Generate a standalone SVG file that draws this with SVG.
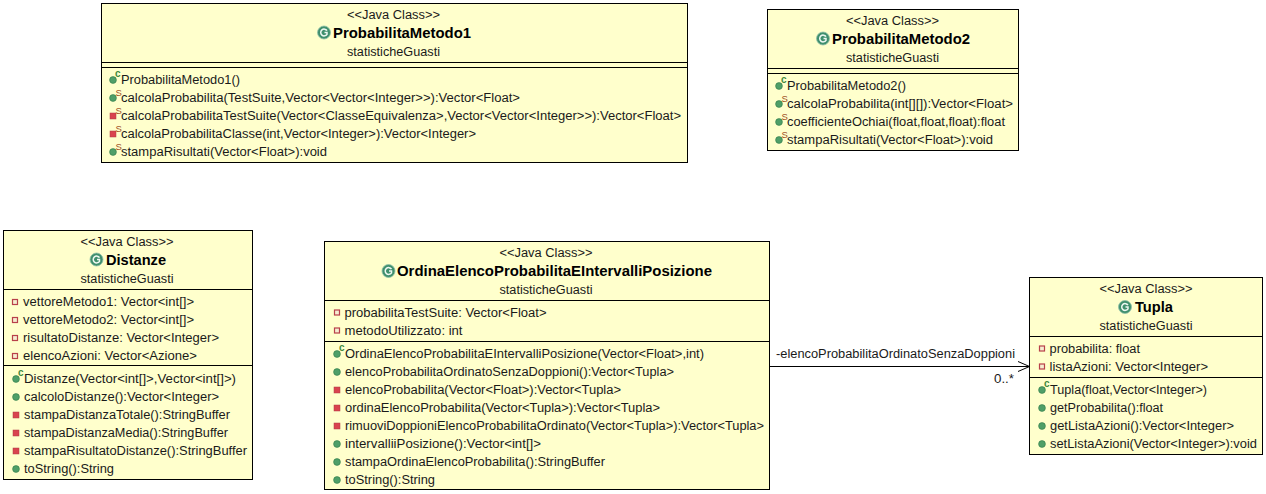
<svg xmlns="http://www.w3.org/2000/svg" width="1266" height="494" viewBox="0 0 1266 494">
<style>
text{font-family:"Liberation Sans",Arial,sans-serif;font-size:12px;fill:#1a1a1a}
.c{text-anchor:middle;font-size:12.5px}
.t{font-weight:bold;font-size:14px;text-anchor:middle;fill:#000}
.ac{font-size:10px;font-weight:bold;fill:#3f8a3f}
.as{font-size:9.500px;fill:#a0501e}
.box{fill:#ffffcc;stroke:#000;stroke-width:1}
.ln{stroke:#000;stroke-width:1;fill:none}
</style>
<defs>
<g id="cls"><circle r="6.500" fill="#3f8f6d" stroke="#8fbfa8" stroke-width="0.8"/><path d="M3-1.800A3.400 3.400 0 1 0 3 1.800V0H0.500" fill="none" stroke="#eef8f2" stroke-width="1.500"/></g>
<g id="pub"><circle r="3.400" fill="#4f9f68" stroke="#2f7a48" stroke-width="0.6"/></g>
<g id="pri"><rect x="-3" y="-3" width="6" height="6" fill="#d9434e" stroke="#b03a44" stroke-width="0.5"/></g>
<g id="fld"><rect x="-2.500" y="-2.500" width="5" height="5" fill="#f6ecd0" stroke="#b8404a" stroke-width="1.200"/></g>
</defs>

<g id="connectors">
<path class="ln" d="M770 366.500H1029"/>
<path class="ln" d="M1018 361.500L1029.500 366.500L1018 371.500"/>
<text x="776" y="358" textLength="239" lengthAdjust="spacingAndGlyphs">-elencoProbabilitaOrdinatoSenzaDoppioni</text>
<text x="994" y="383" textLength="20" lengthAdjust="spacingAndGlyphs">0..*</text>
</g>

<g id="ProbabilitaMetodo1">
<rect class="box" x="101.500" y="3.500" width="586" height="159"/>
<path class="ln" d="M102 62.500H687M102 67.500H687"/>
<text class="c" x="393.500" y="19" textLength="93" lengthAdjust="spacingAndGlyphs">&lt;&lt;Java Class&gt;&gt;</text>
<use href="#cls" x="324" y="32.500"/>
<text class="t" x="402" y="38" textLength="138" lengthAdjust="spacingAndGlyphs">ProbabilitaMetodo1</text>
<text class="c" x="393.500" y="56" textLength="93" lengthAdjust="spacingAndGlyphs">statisticheGuasti</text>
<use href="#pub" x="113" y="80"/><text class="ac" x="115" y="77">c</text>
<text x="121" y="84" textLength="119" lengthAdjust="spacingAndGlyphs">ProbabilitaMetodo1()</text>
<use href="#pub" x="113" y="98"/><text class="as" x="115.500" y="96">S</text>
<text x="121" y="102" textLength="399" lengthAdjust="spacingAndGlyphs">calcolaProbabilita(TestSuite,Vector&lt;Vector&lt;Integer&gt;&gt;):Vector&lt;Float&gt;</text>
<use href="#pri" x="113" y="116"/><text class="as" x="115.500" y="114">S</text>
<text x="121" y="120" textLength="560" lengthAdjust="spacingAndGlyphs">calcolaProbabilitaTestSuite(Vector&lt;ClasseEquivalenza&gt;,Vector&lt;Vector&lt;Integer&gt;&gt;):Vector&lt;Float&gt;</text>
<use href="#pri" x="113" y="134"/><text class="as" x="115.500" y="132">S</text>
<text x="121" y="138" textLength="355" lengthAdjust="spacingAndGlyphs">calcolaProbabilitaClasse(int,Vector&lt;Integer&gt;):Vector&lt;Integer&gt;</text>
<use href="#pub" x="113" y="152"/><text class="as" x="115.500" y="150">S</text>
<text x="121" y="156" textLength="206" lengthAdjust="spacingAndGlyphs">stampaRisultati(Vector&lt;Float&gt;):void</text>
</g>

<g id="ProbabilitaMetodo2">
<rect class="box" x="767.500" y="9.500" width="251" height="141"/>
<path class="ln" d="M768 68.500H1018M768 73.500H1018"/>
<text class="c" x="892.500" y="25" textLength="93" lengthAdjust="spacingAndGlyphs">&lt;&lt;Java Class&gt;&gt;</text>
<use href="#cls" x="823" y="38.500"/>
<text class="t" x="901" y="44" textLength="138" lengthAdjust="spacingAndGlyphs">ProbabilitaMetodo2</text>
<text class="c" x="892.500" y="62" textLength="93" lengthAdjust="spacingAndGlyphs">statisticheGuasti</text>
<use href="#pub" x="779" y="86"/><text class="ac" x="781" y="83">c</text>
<text x="787" y="90" textLength="119" lengthAdjust="spacingAndGlyphs">ProbabilitaMetodo2()</text>
<use href="#pub" x="779" y="104"/><text class="as" x="781.500" y="102">S</text>
<text x="787" y="108" textLength="226" lengthAdjust="spacingAndGlyphs">calcolaProbabilita(int[][]):Vector&lt;Float&gt;</text>
<use href="#pub" x="779" y="122"/><text class="as" x="781.500" y="120">S</text>
<text x="787" y="126" textLength="218" lengthAdjust="spacingAndGlyphs">coefficienteOchiai(float,float,float):float</text>
<use href="#pub" x="779" y="140"/><text class="as" x="781.500" y="138">S</text>
<text x="787" y="144" textLength="206" lengthAdjust="spacingAndGlyphs">stampaRisultati(Vector&lt;Float&gt;):void</text>
</g>

<g id="Distanze">
<rect class="box" x="3.500" y="230.500" width="249" height="249"/>
<path class="ln" d="M4 289.500H252M4 365.500H252"/>
<text class="c" x="127" y="246" textLength="93" lengthAdjust="spacingAndGlyphs">&lt;&lt;Java Class&gt;&gt;</text>
<use href="#cls" x="96.500" y="259.500"/>
<text class="t" x="136" y="265" textLength="60" lengthAdjust="spacingAndGlyphs">Distanze</text>
<text class="c" x="127" y="283" textLength="93" lengthAdjust="spacingAndGlyphs">statisticheGuasti</text>
<use href="#fld" x="15" y="302"/>
<text x="23" y="305.500" textLength="171" lengthAdjust="spacingAndGlyphs">vettoreMetodo1: Vector&lt;int[]&gt;</text>
<use href="#fld" x="15" y="320"/>
<text x="23" y="323.500" textLength="171" lengthAdjust="spacingAndGlyphs">vettoreMetodo2: Vector&lt;int[]&gt;</text>
<use href="#fld" x="15" y="338"/>
<text x="23" y="341.500" textLength="196" lengthAdjust="spacingAndGlyphs">risultatoDistanze: Vector&lt;Integer&gt;</text>
<use href="#fld" x="15" y="356"/>
<text x="23" y="359.500" textLength="174" lengthAdjust="spacingAndGlyphs">elencoAzioni: Vector&lt;Azione&gt;</text>
<use href="#pub" x="16" y="379"/><text class="ac" x="18" y="376">c</text>
<text x="24" y="383" textLength="212" lengthAdjust="spacingAndGlyphs">Distanze(Vector&lt;int[]&gt;,Vector&lt;int[]&gt;)</text>
<use href="#pub" x="16" y="397"/>
<text x="24" y="401" textLength="195" lengthAdjust="spacingAndGlyphs">calcoloDistanze():Vector&lt;Integer&gt;</text>
<use href="#pri" x="16" y="415"/>
<text x="24" y="419" textLength="206" lengthAdjust="spacingAndGlyphs">stampaDistanzaTotale():StringBuffer</text>
<use href="#pri" x="16" y="433"/>
<text x="24" y="437" textLength="204" lengthAdjust="spacingAndGlyphs">stampaDistanzaMedia():StringBuffer</text>
<use href="#pri" x="16" y="451"/>
<text x="24" y="455" textLength="223" lengthAdjust="spacingAndGlyphs">stampaRisultatoDistanze():StringBuffer</text>
<use href="#pub" x="16" y="469"/>
<text x="24" y="473" textLength="90" lengthAdjust="spacingAndGlyphs">toString():String</text>
</g>

<g id="OrdinaElencoProbabilitaEIntervalliPosizione">
<rect class="box" x="324.500" y="241.500" width="445" height="248"/>
<path class="ln" d="M325 300.500H769M325 341.500H769"/>
<text class="c" x="546" y="257" textLength="93" lengthAdjust="spacingAndGlyphs">&lt;&lt;Java Class&gt;&gt;</text>
<use href="#cls" x="388.500" y="271"/>
<text class="t" x="554.500" y="276" textLength="315" lengthAdjust="spacingAndGlyphs">OrdinaElencoProbabilitaEIntervalliPosizione</text>
<text class="c" x="546" y="294" textLength="93" lengthAdjust="spacingAndGlyphs">statisticheGuasti</text>
<use href="#fld" x="337" y="312.500"/>
<text x="344.500" y="317" textLength="202" lengthAdjust="spacingAndGlyphs">probabilitaTestSuite: Vector&lt;Float&gt;</text>
<use href="#fld" x="337" y="330.500"/>
<text x="344.500" y="335" textLength="118" lengthAdjust="spacingAndGlyphs">metodoUtilizzato: int</text>
<use href="#pub" x="337" y="354"/><text class="ac" x="339" y="351">c</text>
<text x="345" y="358" textLength="359" lengthAdjust="spacingAndGlyphs">OrdinaElencoProbabilitaEIntervalliPosizione(Vector&lt;Float&gt;,int)</text>
<use href="#pub" x="337" y="372"/>
<text x="345" y="376" textLength="329" lengthAdjust="spacingAndGlyphs">elencoProbabilitaOrdinatoSenzaDoppioni():Vector&lt;Tupla&gt;</text>
<use href="#pri" x="337" y="390"/>
<text x="345" y="394" textLength="276" lengthAdjust="spacingAndGlyphs">elencoProbabilita(Vector&lt;Float&gt;):Vector&lt;Tupla&gt;</text>
<use href="#pri" x="337" y="408"/>
<text x="345" y="412" textLength="315" lengthAdjust="spacingAndGlyphs">ordinaElencoProbabilita(Vector&lt;Tupla&gt;):Vector&lt;Tupla&gt;</text>
<use href="#pri" x="337" y="426"/>
<text x="345" y="430" textLength="419" lengthAdjust="spacingAndGlyphs">rimuoviDoppioniElencoProbabilitaOrdinato(Vector&lt;Tupla&gt;):Vector&lt;Tupla&gt;</text>
<use href="#pub" x="337" y="444"/>
<text x="345" y="448" textLength="196" lengthAdjust="spacingAndGlyphs">intervalliiPosizione():Vector&lt;int[]&gt;</text>
<use href="#pub" x="337" y="462"/>
<text x="345" y="466" textLength="260" lengthAdjust="spacingAndGlyphs">stampaOrdinaElencoProbabilita():StringBuffer</text>
<use href="#pub" x="337" y="480"/>
<text x="345" y="484" textLength="90" lengthAdjust="spacingAndGlyphs">toString():String</text>
</g>

<g id="Tupla">
<rect class="box" x="1029.500" y="277.500" width="233" height="177"/>
<path class="ln" d="M1030 336.500H1262M1030 377.500H1262"/>
<text class="c" x="1146" y="293" textLength="93" lengthAdjust="spacingAndGlyphs">&lt;&lt;Java Class&gt;&gt;</text>
<use href="#cls" x="1125" y="307"/>
<text class="t" x="1154" y="312" textLength="38" lengthAdjust="spacingAndGlyphs">Tupla</text>
<text class="c" x="1146" y="330" textLength="93" lengthAdjust="spacingAndGlyphs">statisticheGuasti</text>
<use href="#fld" x="1042" y="348.500"/>
<text x="1049.500" y="353" textLength="90.500" lengthAdjust="spacingAndGlyphs">probabilita: float</text>
<use href="#fld" x="1042" y="366.500"/>
<text x="1049.500" y="371" textLength="158.500" lengthAdjust="spacingAndGlyphs">listaAzioni: Vector&lt;Integer&gt;</text>
<use href="#pub" x="1042" y="390"/><text class="ac" x="1044" y="387">c</text>
<text x="1050" y="394" textLength="157" lengthAdjust="spacingAndGlyphs">Tupla(float,Vector&lt;Integer&gt;)</text>
<use href="#pub" x="1042" y="408"/>
<text x="1050" y="412" textLength="113" lengthAdjust="spacingAndGlyphs">getProbabilita():float</text>
<use href="#pub" x="1042" y="426"/>
<text x="1050" y="430" textLength="184" lengthAdjust="spacingAndGlyphs">getListaAzioni():Vector&lt;Integer&gt;</text>
<use href="#pub" x="1042" y="444"/>
<text x="1050" y="448" textLength="207" lengthAdjust="spacingAndGlyphs">setListaAzioni(Vector&lt;Integer&gt;):void</text>
</g>
</svg>
